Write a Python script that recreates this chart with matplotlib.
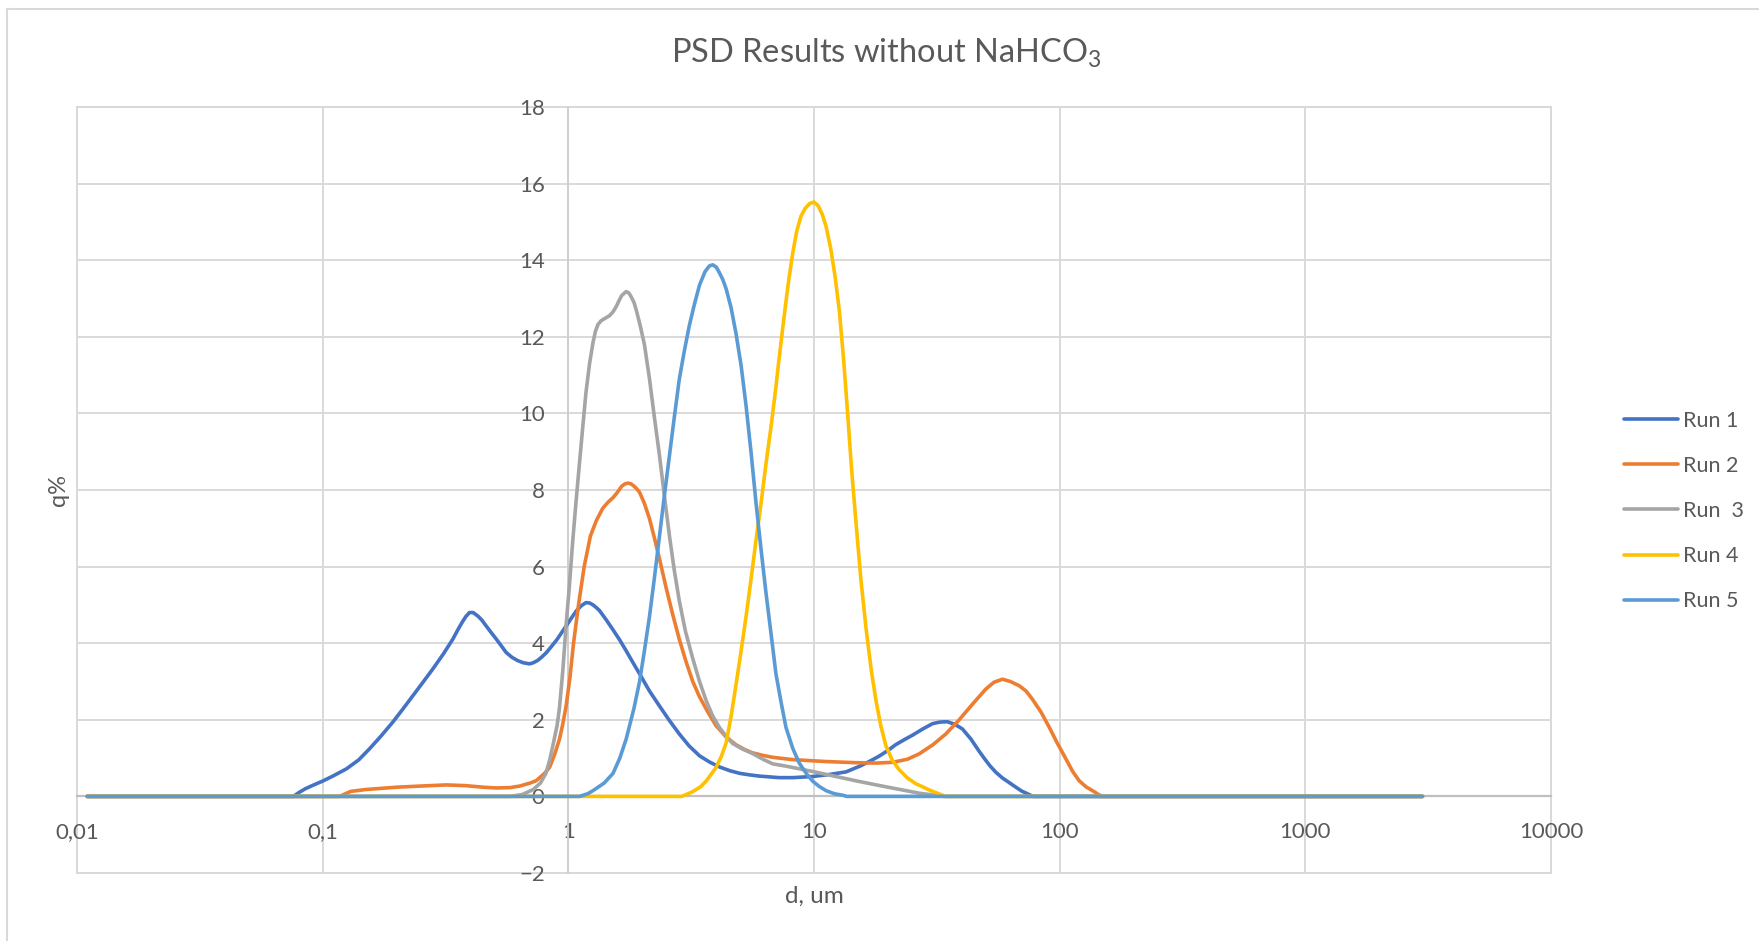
#!/usr/bin/env python3
"""PSD Results without NaHCO3 - q% vs d (log) cho 5 lần đo."""

import matplotlib
matplotlib.use("Agg")
import matplotlib.pyplot as plt
from matplotlib.patches import Rectangle

plt.rcParams["font.family"] = ["Lato", "DejaVu Sans"]
plt.rcParams["mathtext.fontset"] = "custom"
plt.rcParams["mathtext.rm"] = "Lato"
plt.rcParams["mathtext.it"] = "Lato:italic"
plt.rcParams["mathtext.bf"] = "Lato:bold"

TEXT = "#595959"
GRID = "#d9d9d9"

# dữ liệu (d in um, q in %)
run1_d = [0.011, 0.076, 0.08, 0.085, 0.092, 0.1, 0.11, 0.125, 0.14, 0.155, 0.173, 0.193,
          0.212, 0.233, 0.256, 0.281, 0.31, 0.339, 0.355, 0.37, 0.383, 0.396, 0.41, 0.43,
          0.445, 0.463, 0.485, 0.51, 0.535, 0.558, 0.59, 0.62, 0.655, 0.695, 0.72, 0.75,
          0.78, 0.813, 0.855, 0.9, 0.94, 0.98, 1.03, 1.08, 1.13, 1.18, 1.22, 1.26, 1.3,
          1.34, 1.43, 1.52, 1.62, 1.72, 1.83, 1.95, 2.14, 2.35, 2.58, 2.83, 3.1, 3.42,
          3.75, 4.12, 4.55, 5.0, 5.5, 6.0, 7.2, 8.2, 9.9, 11.5, 13.5, 15.5, 17.0, 18.4,
          20.0, 21.5, 23.3, 25.2, 27.7, 30.4, 32.5, 34.9, 37.5, 40.2, 43.5, 47.0, 49.5,
          52.0, 55.0, 58.5, 62.0, 66.0, 70.0, 75.0, 78.0, 3000]
run1_q = [0, 0, 0.1, 0.2, 0.3, 0.4, 0.53, 0.72, 0.95, 1.24, 1.58, 1.94,
          2.28, 2.63, 2.98, 3.33, 3.72, 4.11, 4.35, 4.55, 4.7, 4.8, 4.8, 4.7,
          4.6, 4.45, 4.28, 4.1, 3.92, 3.76, 3.63, 3.55, 3.49, 3.46, 3.49, 3.55,
          3.64, 3.75, 3.92, 4.1, 4.28, 4.45, 4.66, 4.85, 4.98, 5.06, 5.05, 5.0, 4.93,
          4.85, 4.6, 4.35, 4.08, 3.8, 3.5, 3.2, 2.75, 2.36, 1.98, 1.63, 1.32, 1.06,
          0.9, 0.77, 0.67, 0.6, 0.56, 0.53, 0.49, 0.49, 0.52, 0.57, 0.64, 0.8, 0.93, 1.05,
          1.2, 1.35, 1.48, 1.6, 1.76, 1.9, 1.94, 1.95, 1.88, 1.76, 1.5, 1.18, 0.98,
          0.8, 0.63, 0.48, 0.37, 0.25, 0.14, 0.05, 0, 0]

run2_d = [0.011, 0.117, 0.13, 0.15, 0.2, 0.25, 0.318, 0.384, 0.45, 0.509, 0.58, 0.634,
          0.7, 0.74, 0.8, 0.839, 0.88, 0.921, 0.95, 0.98, 1.015, 1.05, 1.1, 1.16, 1.23,
          1.3, 1.38, 1.45, 1.52, 1.58, 1.65, 1.7, 1.75, 1.8, 1.85, 1.9, 1.95, 2.04, 2.14,
          2.24, 2.35, 2.5, 2.66, 2.83, 3.02, 3.21, 3.42, 3.7, 3.99, 4.39, 4.81, 5.2, 5.6,
          6.2, 6.8, 8.2, 11.2, 14.8, 18.0, 20.9, 24.0, 26.8, 30.5, 34.4, 39.0, 44.2, 50.0,
          54.0, 58.5, 63.0, 68.4, 73.0, 77.4, 84.0, 90.6, 98.0, 106, 113, 120, 128, 136,
          143, 149, 3000]
run2_q = [0, 0, 0.13, 0.18, 0.24, 0.27, 0.30, 0.28, 0.24, 0.22, 0.23, 0.27,
          0.35, 0.41, 0.6, 0.76, 1.1, 1.5, 1.9, 2.37, 3.1, 4.0, 5.0, 6.0, 6.8,
          7.2, 7.52, 7.68, 7.8, 7.93, 8.1, 8.16, 8.18, 8.16, 8.1, 8.03, 7.94, 7.65, 7.25,
          6.75, 6.2, 5.45, 4.75, 4.1, 3.5, 3.0, 2.6, 2.2, 1.85, 1.55, 1.35, 1.23, 1.14,
          1.07, 1.02, 0.96, 0.91, 0.88, 0.87, 0.89, 0.97, 1.11, 1.35, 1.63, 2.0, 2.41, 2.8,
          2.98, 3.06, 3.0, 2.89, 2.75, 2.54, 2.2, 1.81, 1.38, 0.98, 0.65, 0.41, 0.25, 0.15,
          0.06, 0, 0]

run3_d = [0.011, 0.58, 0.65, 0.72, 0.77, 0.81, 0.84, 0.87, 0.9, 0.92, 0.95, 0.98, 1.01,
          1.04, 1.075, 1.11, 1.145, 1.18, 1.22, 1.26, 1.29, 1.32, 1.36, 1.4, 1.47, 1.52,
          1.57, 1.61, 1.65, 1.72, 1.76, 1.8, 1.85, 1.89, 1.96, 2.04, 2.14, 2.24, 2.35,
          2.46, 2.58, 2.7, 2.83, 3.0, 3.21, 3.42, 3.64, 3.87, 4.12, 4.39, 4.67, 5.1, 5.62,
          6.2, 6.79, 7.69, 9.87, 12.7, 15.0, 17.3, 20.0, 23.7, 27.0, 30.4, 34.0, 3000]
run3_q = [0, 0, 0.05, 0.18, 0.35, 0.6, 0.95, 1.4, 1.85, 2.3, 3.3, 4.5, 5.5,
          6.6, 7.7, 8.7, 9.65, 10.55, 11.3, 11.85, 12.15, 12.32, 12.42, 12.47, 12.55, 12.65,
          12.8, 12.95, 13.08, 13.18, 13.15, 13.05, 12.9, 12.7, 12.3, 11.8, 10.9, 9.9, 8.9,
          7.85, 6.8, 5.9, 5.1, 4.3, 3.6, 3.0, 2.5, 2.1, 1.8, 1.57, 1.38, 1.24, 1.12,
          0.97, 0.85, 0.79, 0.65, 0.5, 0.4, 0.32, 0.24, 0.15, 0.08, 0.04, 0, 0]

run4_d = [0.011, 2.9, 3.2, 3.45, 3.64, 3.99, 4.2, 4.39, 4.6, 4.81, 5.05, 5.29, 5.55,
          5.81, 6.1, 6.38, 6.7, 7.0, 7.2, 7.45, 7.7, 7.9, 8.2, 8.5, 8.85, 9.2, 9.6, 10.0,
          10.4, 10.8, 11.2, 11.7, 12.2, 12.7, 13.2, 13.7, 14.2, 14.8, 15.5, 16.3, 17.1,
          17.9, 18.7, 19.6, 20.8, 22.2, 24.0, 26.0, 29.9, 34.3, 3000]
run4_q = [0, 0, 0.12, 0.25, 0.4, 0.75, 1.05, 1.4, 2.1, 2.9, 3.8, 4.7, 5.7,
          6.7, 7.7, 8.7, 9.7, 10.7, 11.4, 12.2, 12.95, 13.5, 14.2, 14.75, 15.15, 15.35, 15.48,
          15.52, 15.42, 15.2, 14.88, 14.3, 13.55, 12.64, 11.4, 10.02, 8.6, 7.2, 5.7, 4.37,
          3.3, 2.48, 1.85, 1.33, 0.95, 0.7, 0.48, 0.33, 0.15, 0, 0]

run5_d = [0.011, 1.11, 1.2, 1.26, 1.4, 1.52, 1.62, 1.72, 1.85, 1.95, 2.04, 2.14, 2.24,
          2.35, 2.46, 2.58, 2.7, 2.83, 2.97, 3.11, 3.26, 3.42, 3.6, 3.75, 3.87, 4.0, 4.1,
          4.25, 4.39, 4.6, 4.81, 5.05, 5.29, 5.55, 5.81, 6.1, 6.38, 6.7, 7.0, 7.35, 7.69,
          8.2, 8.71, 9.3, 9.87, 10.5, 11.2, 12.1, 13.1, 13.6, 3000]
run5_q = [0, 0, 0.07, 0.15, 0.35, 0.6, 1.0, 1.5, 2.3, 3.0, 3.8, 4.7, 5.7,
          6.8, 7.85, 8.9, 9.9, 10.9, 11.65, 12.3, 12.85, 13.35, 13.7, 13.85, 13.88, 13.82, 13.7,
          13.5, 13.25, 12.75, 12.1, 11.25, 10.2, 8.95, 7.65, 6.4, 5.3, 4.2, 3.2, 2.45, 1.8,
          1.25, 0.87, 0.6, 0.4, 0.26, 0.15, 0.07, 0.03, 0, 0]

series = [
    ("Run 1", run1_d, run1_q, "#4472C4"),
    ("Run 2", run2_d, run2_q, "#ED7D31"),
    ("Run  3", run3_d, run3_q, "#A5A5A5"),
    ("Run 4", run4_d, run4_q, "#FFC000"),
    ("Run 5", run5_d, run5_q, "#5B9BD5"),
]

x_ticks = [0.01, 0.1, 1, 10, 100, 1000, 10000]
x_tick_labels = ["0,01", "0,1", "1", "10", "100", "1000", "10000"]
y_ticks = list(range(-2, 19, 2))


def main():
    W, H = 1759, 941
    fig = plt.figure(figsize=(W / 100, H / 100), dpi=100)

    # khung ngoài (chỉ thấy cạnh trên và trái)
    fig.add_artist(plt.Line2D([7 / W, 1], [1 - 8.5 / H, 1 - 8.5 / H], color=GRID, lw=1.5))
    fig.add_artist(plt.Line2D([7 / W, 7 / W], [0, 1 - 8.5 / H], color=GRID, lw=1.5))

    left, right, top, bottom = 77, 1551, 107, 873
    ax = fig.add_axes([left / W, 1 - bottom / H, (right - left) / W, (bottom - top) / H])

    for name, d, q, c in series:
        ax.plot(d, q, color=c, lw=2.6, label=name, solid_joinstyle="round",
                solid_capstyle="round", zorder=3)

    ax.set_xscale("log")
    ax.set_xlim(0.01, 10000)
    ax.set_ylim(-2, 18)
    ax.set_xticks(x_ticks)
    ax.set_xticklabels(x_tick_labels)
    ax.xaxis.set_minor_locator(matplotlib.ticker.NullLocator())
    ax.set_yticks(y_ticks)

    ax.grid(True, color=GRID, lw=1.4)
    ax.set_axisbelow(True)
    ax.add_patch(Rectangle((0, 0), 1, 1, transform=ax.transAxes, fill=False,
                           edgecolor=GRID, lw=1.4, clip_on=False, zorder=0.5))

    for s in ["top", "right"]:
        ax.spines[s].set_visible(False)
    ax.spines["left"].set_position(("data", 1))
    ax.spines["bottom"].set_position(("data", 0))
    ax.spines["left"].set_color("#cfcfcf")
    ax.spines["bottom"].set_color("#bfbfbf")
    ax.spines["left"].set_linewidth(1.4)
    ax.spines["bottom"].set_linewidth(1.6)

    ax.tick_params(axis="x", length=0, pad=18.5, labelsize=16, labelcolor=TEXT)
    ax.tick_params(axis="y", length=0, pad=17, labelsize=16, labelcolor=TEXT)

    fig.text(0.504, 1 - 63.3 / H, "PSD Results without NaHCO$_3$", ha="center",
             va="baseline", fontsize=23.5, color=TEXT)
    fig.text((left + right) / 2 / W, 1 - 903 / H, "d, um", ha="center", va="baseline",
             fontsize=17.5, color=TEXT)
    fig.text(58 / W, 1 - (top + bottom) / 2 / H, "q%", ha="center", va="center",
             rotation=90, fontsize=17, color=TEXT)

    fig.legend(loc="center left", bbox_to_anchor=(1624 / W, 1 - 511 / H), frameon=False,
               fontsize=15.5, labelcolor=TEXT, handlelength=2.5, handletextpad=0.25,
               labelspacing=1.17, borderpad=0, borderaxespad=0)

    out = "out.png"
    fig.savefig(out, dpi=100)
    plt.close(fig)
    print(f"Saved {out}")


if __name__ == "__main__":
    main()
